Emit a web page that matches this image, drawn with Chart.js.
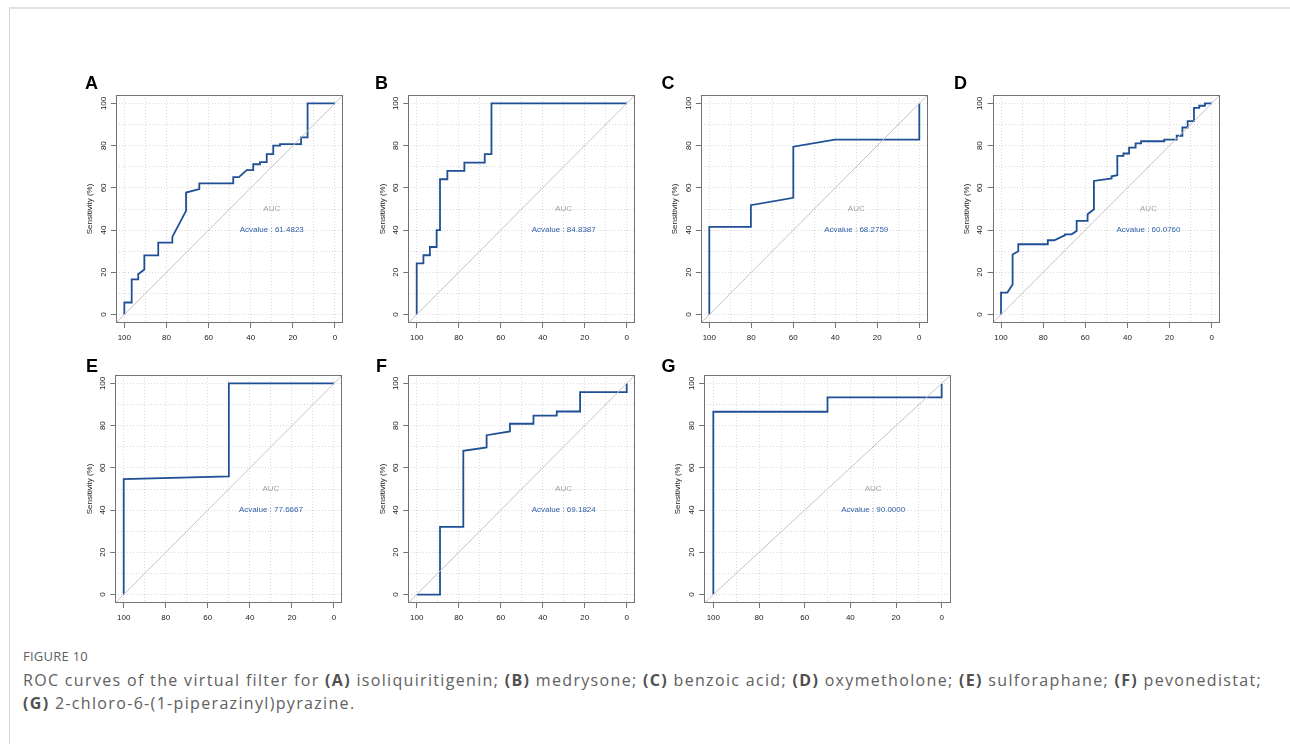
<!DOCTYPE html>
<html><head><meta charset="utf-8">
<script src="https://cdn.jsdelivr.net/npm/chart.js@4.4.1/dist/chart.umd.min.js"></script>
<style>
html,body{margin:0;padding:0;background:#fff;width:1290px;height:744px;overflow:hidden;}
#frame{position:absolute;left:9px;top:7px;width:1290px;height:760px;border-top:2px solid #e2e2e2;border-left:1px solid #d8d8d8;}
canvas{position:absolute;}
.cap{position:absolute;left:23px;font-family:"Open Sans",sans-serif;color:#606060;white-space:nowrap;line-height:1;}
.cap b{color:#505050;font-weight:700;}
</style></head><body>
<div id="frame"></div>
<div class="cap" id="fig" style="top:650px;font-size:13px;">FIGURE 10</div>
<div class="cap" id="l1" style="top:672px;font-size:16px;">ROC curves of the virtual filter for <b>(A)</b> isoliquiritigenin; <b>(B)</b> medrysone; <b>(C)</b> benzoic acid; <b>(D)</b> oxymetholone; <b>(E)</b> sulforaphane; <b>(F)</b> pevonedistat;</div>
<div class="cap" id="l2" style="top:695px;font-size:16px;"><b>(G)</b> 2-chloro-6-(1-piperazinyl)pyrazine.</div>
<script>
// ---------- data ----------
const panelLetters = ['A','B','C','D','E','F','G'];
const aucValues = ['61.4823','84.8387','68.2759','60.0760','77.6667','69.1824','90.0000'];
const gridValues = [0,10,20,30,40,50,60,70,80,90,100];
const labelTicks = [0,20,40,60,80,100];
const axisMin = -4, axisMax = 104;
const xTitle = 'Specificity (%)';
const yTitle = 'Sensitivity (%)';

const specA = [100,100,96.5,96.5,93.4,93.4,90.5,90.5,83.9,83.9,77.2,77.2,70.7,70.7,64.4,64.4,48.3,48.3,45.6,41.9,38.8,38.8,35.6,35.6,32.4,32.4,29.3,29.3,26.1,26.1,16.1,16.1,13,13,0];
const sensA = [0,5.7,5.7,16.7,16.7,19.1,21.3,28,28,34.1,34.1,36.8,49.1,57.8,59.4,62.1,62.1,65.1,65.1,68.4,68.4,71.2,71.2,72.2,72.2,76,76,80,80,80.7,80.7,83.9,83.9,100,100];

const specB = [100,100,96.8,96.8,93.7,93.7,90.5,90.5,88.9,88.9,85.4,85.4,77.3,77.3,67.6,67.6,64.4,64.4,0];
const sensB = [0,24.2,24.2,28.1,28.1,32,32,40,40,64.1,64.1,68.1,68.1,72,72,76,76,100,100];

const specC = [100,100,80.2,80.2,60,60,40.2,0,0];
const sensC = [0,41.5,41.5,51.8,55.3,79.5,82.9,82.9,100];

const specD = [100,100,97,94.5,94.5,91.8,91.8,77.8,77.8,74.7,69.6,69.6,66.5,64.1,64.1,58.9,58.9,55.9,55.9,47.5,47.5,44.8,44.8,41.9,41.9,39.2,39.2,36.1,36.1,33.5,33.5,22.5,22.5,16.6,16.6,13.9,13.9,11.4,11.4,8.4,8.4,5.9,5.9,3.2,3.2,0];
const sensD = [0,10.4,10.4,14.2,28.4,30,33.3,33.3,35.2,35.2,37.6,38,38,39.6,44.4,44.4,47.5,49.9,63.3,64.5,65.5,66,75.2,75.2,76.3,76.3,79.1,79.1,81.1,81.1,82.1,82.1,82.9,82.9,84.7,84.7,88.6,88.6,91.6,91.6,97.9,97.9,98.9,98.9,100,100];

const specE = [100,100,50,50,0];
const sensE = [0,54.7,56,100,100];

const specF = [100,88.9,88.9,77.8,77.8,66.7,66.7,55.6,55.6,44.4,44.4,33.3,33.3,22.2,22.2,0,0];
const sensF = [0,0,32.1,32.1,68.1,69.7,75.5,77.3,80.9,80.9,84.8,84.8,86.7,86.7,95.9,95.9,100];

const specG = [100,100,50,50,0,0];
const sensG = [0,86.6,86.6,93.4,93.4,100];

const specs = [specA,specB,specC,specD,specE,specF,specG];
const senss = [sensA,sensB,sensC,sensD,sensE,sensF,sensG];

// ---------- layout (plot-area rectangles in page pixels) ----------
const layout = [
  {L:115.9, T:95,  W:227.5, H:228, lx:85,    ly:89},
  {L:408.3, T:95,  W:226.8, H:228, lx:375,   ly:89},
  {L:700.9, T:95,  W:226.8, H:228, lx:661.5, ly:89},
  {L:992.6, T:95,  W:227.5, H:228, lx:954,   ly:89},
  {L:115.3, T:375, W:227.1, H:228, lx:86,    ly:372},
  {L:408.3, T:375, W:226.8, H:228, lx:376,   ly:372},
  {L:704.2, T:375, W:246.6, H:228, lx:661.5, ly:372}
];

const FONT = '"Liberation Sans", Arial, sans-serif';

const decor = {
  id: 'decor',
  afterDatasetsDraw(chart) {
    const o = chart.options.plugins.decor;
    const {ctx, chartArea: a} = chart;
    const xs = chart.scales.x, ys = chart.scales.y;
    ctx.save();
    // box
    ctx.strokeStyle = '#737373';
    ctx.lineWidth = 1;
    const l = Math.round(a.left) + 0.5, t = Math.round(a.top) + 0.5;
    const r = Math.round(a.right) - 0.5, b = Math.round(a.bottom) - 0.5;
    ctx.strokeRect(l, t, r - l, b - t);
    // tick labels
    ctx.fillStyle = '#222';
    ctx.font = '8px ' + FONT;
    ctx.textAlign = 'center';
    ctx.textBaseline = 'alphabetic';
    labelTicks.forEach(v => {
      ctx.fillText(String(v), xs.getPixelForValue(v), a.bottom + 16.8);
    });
    labelTicks.forEach(v => {
      ctx.save();
      ctx.translate(a.left - 10.3, ys.getPixelForValue(v));
      ctx.rotate(-Math.PI / 2);
      ctx.fillText(String(v), 0, 0);
      ctx.restore();
    });
    // axis titles
    ctx.fillText(xTitle, (a.left + a.right) / 2, a.bottom + 30.3);
    ctx.save();
    ctx.translate(a.left - 26, (a.top + a.bottom) / 2);
    ctx.rotate(-Math.PI / 2);
    ctx.textBaseline = 'middle';
    ctx.fillText(yTitle, 0, 0);
    ctx.restore();
    // AUC texts
    ctx.textBaseline = 'middle';
    ctx.fillStyle = '#a0a0a0';
    ctx.fillText('AUC', xs.getPixelForValue(30), ys.getPixelForValue(50));
    ctx.fillStyle = '#3260a8';
    ctx.fillText('Acvalue : ' + o.auc, xs.getPixelForValue(30), ys.getPixelForValue(40));
    // panel letter
    ctx.fillStyle = '#000';
    ctx.font = 'bold 18px ' + FONT;
    ctx.textAlign = 'left';
    ctx.textBaseline = 'alphabetic';
    ctx.fillText(o.letter, o.lx, o.ly);
    ctx.restore();
  }
};

function axisCfg(pos, reverse) {
  return {
    type: 'linear',
    position: pos,
    min: axisMin,
    max: axisMax,
    reverse: reverse,
    afterBuildTicks: (s) => { s.ticks = gridValues.map(v => ({value: v})); },
    afterFit: (s) => { if (pos === 'bottom') s.height = 0; else s.width = 0; },
    ticks: {display: false},
    title: {display: false},
    border: {display: false, dash: [1, 2]},
    grid: {
      color: '#d9d9d9',
      lineWidth: 1,
      drawTicks: true,
      tickLength: 5,
      tickWidth: 1,
      tickBorderDash: [],
      tickColor: (c) => (c.tick && labelTicks.includes(c.tick.value)) ? '#737373' : 'rgba(0,0,0,0)'
    }
  };
}

layout.forEach((g, i) => {
  const cx = Math.floor(g.L) - 50, cy = Math.floor(g.T) - 30;
  const cw = Math.ceil(g.W) + 62, ch = Math.ceil(g.H) + 48;
  const cv = document.createElement('canvas');
  cv.width = cw; cv.height = ch;
  cv.style.left = cx + 'px'; cv.style.top = cy + 'px';
  cv.style.width = cw + 'px'; cv.style.height = ch + 'px';
  document.body.appendChild(cv);
  const padL = g.L - cx, padT = g.T - cy;
  const padR = cw - padL - g.W, padB = ch - padT - g.H;
  const curve = specs[i].map((s, k) => ({x: s, y: senss[i][k]}));
  new Chart(cv, {
    type: 'scatter',
    data: {
      datasets: [
        {data: [{x: axisMax, y: axisMin}, {x: axisMin, y: axisMax}], showLine: true,
         borderColor: '#c4c4c4', borderWidth: 1, pointRadius: 0, tension: 0},
        {data: curve, showLine: true, borderColor: '#1f4f94', borderWidth: 1.8,
         pointRadius: 0, tension: 0, borderJoinStyle: 'miter'}
      ]
    },
    options: {
      responsive: false,
      animation: false,
      devicePixelRatio: 1,
      layout: {padding: {left: padL, top: padT, right: padR, bottom: padB}, autoPadding: false},
      plugins: {
        legend: {display: false},
        tooltip: {enabled: false},
        decor: {auc: aucValues[i], letter: panelLetters[i], lx: g.lx - cx, ly: g.ly - cy}
      },
      scales: {x: axisCfg('bottom', true), y: axisCfg('left', false)}
    },
    plugins: [decor]
  });
});

// caption width fitting
function fitWidth(el, target) {
  const w = el.getBoundingClientRect().width;
  const n = el.textContent.length;
  const ls = (target - w) / n;
  el.style.letterSpacing = ls + 'px';
  return ls;
}
const ls1 = fitWidth(document.getElementById('l1'), 1239);
document.getElementById('l2').style.letterSpacing = ls1 + 'px';
fitWidth(document.getElementById('fig'), 65);
</script>
</body></html>
